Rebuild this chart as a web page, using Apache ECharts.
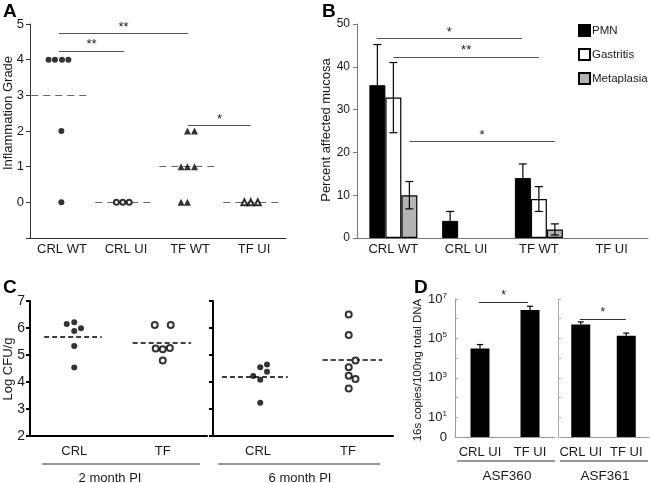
<!DOCTYPE html>
<html><head><meta charset="utf-8">
<script src="https://cdn.jsdelivr.net/npm/echarts@6/dist/echarts.min.js"></script>
<style>html,body{margin:0;padding:0;background:#fff}#c{width:650px;height:483px}</style>
</head><body><div id="c"></div>
<script>
// ===== Panel A: inflammation grade =====
const catsA = ['CRL WT', 'CRL UI', 'TF WT', 'TF UI'];
const aCrlWt = [[0.29, 4], [0.39, 4], [0.5, 4], [0.6, 4], [0.49, 2], [0.49, 0]];
const aCrlUi = [[1.35, 0], [1.45, 0], [1.55, 0]];
const aTfWt = [[2.46, 2], [2.57, 2], [2.36, 1], [2.46, 1], [2.57, 1], [2.36, 0], [2.46, 0]];
const aTfUi = [[3.35, 0], [3.45, 0], [3.56, 0]];
const aMeans = [3, 0, 1, 0];
const aSig = [[0.45, 2.47, 4.73, '**'], [0.45, 1.47, 4.24, '**'], [2.47, 3.45, 2.15, '*']];

// ===== Panel B: percent affected mucosa =====
const catsB = ['CRL WT', 'CRL UI', 'TF WT', 'TF UI'];
const pmn = [35.7, 4.0, 14.0, 0];
const pmnErr = [9.5, 2.2, 3.3, 0];
const gastritis = [32.8, 0, 9.1, 0];
const gastritisErr = [8.2, 0, 2.9, 0];
const metaplasia = [10.0, 0, 2.0, 0];
const metaplasiaErr = [3.2, 0, 1.3, 0];
const bSig = [[0.27, 2.27, 46.6, '*'], [0.5, 2.5, 42.2, '**'], [0.72, 2.72, 22.5, '*']];

// ===== Panel C: Log CFU/g =====
const catsC = ['CRL', 'TF'];
const c2Crl = [[0.415, 6.15], [0.5, 6.21], [0.5, 5.89], [0.576, 5.99], [0.5, 5.33], [0.5, 4.54]];
const c2Tf = [[1.41, 6.11], [1.59, 6.11], [1.42, 5.24], [1.5, 5.21], [1.58, 5.26], [1.5, 4.80]];
const c2Means = [5.68, 5.45];
const c6Crl = [[0.525, 3.23], [0.447, 4.22], [0.525, 4.08], [0.525, 4.55], [0.6, 4.65], [0.6, 4.38]];
const c6Tf = [[1.508, 6.5], [1.508, 5.74], [1.583, 4.80], [1.508, 4.55], [1.508, 4.23], [1.583, 4.11], [1.508, 3.76]];
const c6Means = [4.19, 4.82];
const cGroups = ['2 month PI', '6 month PI'];

// ===== Panel D: 16s copies =====
const catsD = ['CRL UI', 'TF UI'];
const asf360 = [3.05e4, 2.75e6];
const asf360Hi = [4.9e4, 4.3e6];
const asf361 = [5.1e5, 1.35e5];
const asf361Hi = [6.9e5, 1.86e5];
const dSig360 = [0.48, 1.46, 7.2e6, '*'];
const dSig361 = [0.48, 1.49, 9.5e5, '*'];
const dGroups = ['ASF360', 'ASF361'];

const FF = '"Liberation Sans", Arial, Helvetica, sans-serif';
const TXT = '#1a1a1a';
const chart = echarts.init(document.getElementById('c'), null, {renderer: 'canvas'});

function sigLines(xi, yi, arr, color, fs) {
  return {
    type: 'lines', coordinateSystem: 'cartesian2d', xAxisIndex: xi, yAxisIndex: yi, z: 6,
    silent: true, symbol: 'none', clip: false,
    lineStyle: {color: color, width: 1.2, opacity: 1},
    label: {show: true, position: 'middle', distance: 0, color: TXT, fontSize: fs, fontFamily: FF},
    labelLayout: {hideOverlap: false},
    data: arr.map(s => ({coords: [[s[0], s[2]], [s[1], s[2]]], label: {formatter: s[3]}}))
  };
}
// spans are relative to each category's left edge
function meanLines(xi, yi, means, spans, color, width, dash) {
  return {
    type: 'lines', coordinateSystem: 'cartesian2d', xAxisIndex: xi, yAxisIndex: yi, z: 1,
    silent: true, symbol: 'none', clip: false,
    lineStyle: {color: color, width: width, type: dash, opacity: 1},
    data: means.map((m, i) => ({coords: [[i + spans[i][0], m], [i + spans[i][1], m]]}))
  };
}
function errBars(xi, yi, vals, errs, offset, cap) {
  return {
    type: 'custom', xAxisIndex: xi, yAxisIndex: yi, z: 5, silent: true,
    encode: {x: 0, y: [1, 2]},
    data: vals.map((v, i) => [i, v - errs[i], v + errs[i], errs[i]]),
    renderItem(params, api) {
      if (!api.value(3)) return null;
      const lo = api.coord([api.value(0), api.value(1)]);
      const hi = api.coord([api.value(0), api.value(2)]);
      const x = lo[0] + offset;
      const st = {stroke: '#000', lineWidth: 1.2};
      return {type: 'group', children: [
        {type: 'line', shape: {x1: x, y1: lo[1], x2: x, y2: hi[1]}, style: st},
        {type: 'line', shape: {x1: x - cap, y1: hi[1], x2: x + cap, y2: hi[1]}, style: st},
        {type: 'line', shape: {x1: x - cap, y1: lo[1], x2: x + cap, y2: lo[1]}, style: st}
      ]};
    }
  };
}
function errUp(xi, yi, vals, his, cap) {
  return {
    type: 'custom', xAxisIndex: xi, yAxisIndex: yi, z: 5, silent: true,
    encode: {x: 0, y: [1, 2]},
    data: vals.map((v, i) => [i, v, his[i]]),
    renderItem(params, api) {
      const lo = api.coord([api.value(0), api.value(1)]);
      const hi = api.coord([api.value(0), api.value(2)]);
      const st = {stroke: '#000', lineWidth: 1.2};
      return {type: 'group', children: [
        {type: 'line', shape: {x1: lo[0], y1: lo[1], x2: lo[0], y2: hi[1]}, style: st},
        {type: 'line', shape: {x1: lo[0] - cap, y1: hi[1], x2: lo[0] + cap, y2: hi[1]}, style: st}
      ]};
    }
  };
}
// zero-height bars are not drawn in the reference: drop their outline
const noZeroEdge = arr => arr.map(v => v === 0 ? {value: v, itemStyle: {borderWidth: 0, opacity: 0}} : v);

const grids = [
  {left: 30, top: 24, width: 256, height: 214},   // A
  {left: 357, top: 24, width: 291, height: 214},  // B
  {left: 30, top: 301, width: 177, height: 135},  // C 2 month
  {left: 213, top: 301, width: 180, height: 135}, // C 6 month
  {left: 455, top: 299, width: 100, height: 138}, // D ASF360
  {left: 558, top: 299, width: 91, height: 138}   // D ASF361
];

const catLabel = (fs, margin) => ({color: TXT, fontSize: fs, fontFamily: FF, margin: margin, interval: 0, hideOverlap: false});
const xAxes = [
  // A
  {gridIndex: 0, type: 'category', data: catsA, boundaryGap: true,
   axisLine: {onZero: false, lineStyle: {color: '#333', width: 1}}, axisTick: {length: 5, interval: 0, lineStyle: {color: '#333'}},
   axisLabel: catLabel(13, 5)},
  {gridIndex: 0, type: 'value', min: 0, max: 4, show: false},
  // B
  {gridIndex: 1, type: 'category', data: catsB, boundaryGap: true,
   axisLine: {onZero: false, lineStyle: {color: '#777', width: 1}}, axisTick: {length: 4, interval: 0, lineStyle: {color: '#777'}},
   axisLabel: catLabel(13, 5)},
  {gridIndex: 1, type: 'value', min: 0, max: 4, show: false},
  // C
  {gridIndex: 2, type: 'category', data: catsC, axisTick: {alignWithLabel: true, interval: 0, length: 5, lineStyle: {color: '#000', width: 2}},
   axisLine: {onZero: false, lineStyle: {color: '#000', width: 2}}, axisLabel: catLabel(13, 9)},
  {gridIndex: 2, type: 'value', min: 0, max: 2, show: false},
  {gridIndex: 3, type: 'category', data: catsC, axisTick: {alignWithLabel: true, interval: 0, length: 5, lineStyle: {color: '#000', width: 2}},
   axisLine: {onZero: false, lineStyle: {color: '#000', width: 2}}, axisLabel: catLabel(13, 9)},
  {gridIndex: 3, type: 'value', min: 0, max: 2, show: false},
  // D
  {gridIndex: 4, type: 'category', data: catsD, axisTick: {show: false},
   axisLine: {onZero: false, lineStyle: {color: '#999', width: 1}}, axisLabel: catLabel(13, 9)},
  {gridIndex: 4, type: 'value', min: 0, max: 2, show: false},
  {gridIndex: 5, type: 'category', data: catsD, axisTick: {show: false},
   axisLine: {onZero: false, lineStyle: {color: '#999', width: 1}}, axisLabel: catLabel(13, 9)},
  {gridIndex: 5, type: 'value', min: 0, max: 2, show: false}
];

const supMap = {7: '7', 5: '5', 3: '3', 1: '1'};
const dFmt = v => {
  if (v <= 1.0001) return '{n|0}';
  const e = Math.round(Math.log10(v));
  return e % 2 === 1 ? '{n|10}{s|' + supMap[e] + '}' : '';
};
const yAxes = [
  {gridIndex: 0, type: 'value', min: -1, max: 5, interval: 1, splitLine: {show: false},
   axisLine: {show: true, lineStyle: {color: '#333'}}, axisTick: {show: true, length: 4, lineStyle: {color: '#333'}},
   axisLabel: {color: TXT, fontSize: 13, fontFamily: FF, margin: 6, formatter: v => v < 0 ? '' : v}},
  {gridIndex: 1, type: 'value', min: 0, max: 50, interval: 10, splitLine: {show: false},
   axisLine: {show: true, lineStyle: {color: '#777'}}, axisTick: {show: true, length: 4, lineStyle: {color: '#777'}},
   axisLabel: {color: TXT, fontSize: 12, fontFamily: FF, margin: 7}},
  {gridIndex: 2, type: 'value', min: 2, max: 7, interval: 1, splitLine: {show: false},
   axisLine: {show: true, lineStyle: {color: '#000', width: 2}}, axisTick: {show: true, length: 4, lineStyle: {color: '#000', width: 2}},
   axisLabel: {color: TXT, fontSize: 14, fontFamily: FF, margin: 5}},
  {gridIndex: 3, type: 'value', min: 2, max: 7, interval: 1, splitLine: {show: false},
   axisLine: {show: true, lineStyle: {color: '#000', width: 2}}, axisTick: {show: true, length: 4, lineStyle: {color: '#000', width: 2}},
   axisLabel: {show: false}},
  {gridIndex: 4, type: 'log', logBase: 10, min: 1, max: 1e7, splitNumber: 7, splitLine: {show: false},
   axisLine: {show: true, lineStyle: {color: '#999'}}, axisTick: {show: true, inside: true, length: 3, lineStyle: {color: '#aaa'}},
   axisLabel: {color: TXT, fontFamily: FF, margin: 8, formatter: dFmt,
     rich: {n: {fontSize: 13, fontFamily: FF, color: TXT}, s: {fontSize: 8, fontFamily: FF, color: TXT, padding: [0, 0, 7, 0]}}}},
  {gridIndex: 5, type: 'log', logBase: 10, min: 1, max: 1e7, splitNumber: 7, splitLine: {show: false},
   axisLine: {show: true, lineStyle: {color: '#aaa'}}, axisTick: {show: true, inside: true, length: 3, lineStyle: {color: '#aaa'}},
   axisLabel: {show: false}}
];

const series = [
  // ---- A ----
  meanLines(1, 0, aMeans, [[0.02, 0.95], [0.02, 0.92], [0.02, 0.92], [0.02, 0.9]], '#666', 1.2, [7, 5]),
  {type: 'scatter', xAxisIndex: 1, yAxisIndex: 0, data: aCrlWt, symbol: 'circle', symbolSize: 6, itemStyle: {color: '#000'}, z: 4},
  {type: 'scatter', xAxisIndex: 1, yAxisIndex: 0, data: aCrlUi, symbol: 'emptyCircle', symbolSize: 5, itemStyle: {color: '#000', borderWidth: 1}, z: 4},
  {type: 'scatter', xAxisIndex: 1, yAxisIndex: 0, data: aTfWt, symbol: 'triangle', symbolSize: 7, itemStyle: {color: '#000'}, z: 4},
  {type: 'scatter', xAxisIndex: 1, yAxisIndex: 0, data: aTfUi, symbol: 'emptyTriangle', symbolSize: 6, itemStyle: {color: '#000', borderWidth: 1}, z: 4},
  sigLines(1, 0, aSig, '#555', 13),
  // ---- B ----
  {type: 'bar', name: 'PMN', xAxisIndex: 2, yAxisIndex: 1, data: noZeroEdge(pmn), barWidth: 16, barGap: '0%',
   itemStyle: {color: '#000', borderColor: '#000', borderWidth: 1}},
  {type: 'bar', name: 'Gastritis', xAxisIndex: 2, yAxisIndex: 1, data: noZeroEdge(gastritis), barWidth: 16, barGap: '0%',
   itemStyle: {color: '#fff', borderColor: '#000', borderWidth: 1.2}},
  {type: 'bar', name: 'Metaplasia', xAxisIndex: 2, yAxisIndex: 1, data: noZeroEdge(metaplasia), barWidth: 16, barGap: '0%',
   itemStyle: {color: '#b4b4b4', borderColor: '#000', borderWidth: 1.2}},
  errBars(2, 1, pmn, pmnErr, -16, 4),
  errBars(2, 1, gastritis, gastritisErr, 0, 4),
  errBars(2, 1, metaplasia, metaplasiaErr, 16, 4),
  sigLines(3, 1, bSig, '#555', 13),
  // ---- C ----
  meanLines(5, 2, c2Means, [[0.16, 0.81], [0.16, 0.82]], '#000', 1.6, [5, 3]),
  {type: 'scatter', xAxisIndex: 5, yAxisIndex: 2, data: c2Crl, symbol: 'circle', symbolSize: 6, itemStyle: {color: '#000'}, z: 4},
  {type: 'scatter', xAxisIndex: 5, yAxisIndex: 2, data: c2Tf, symbol: 'emptyCircle', symbolSize: 6, itemStyle: {color: '#000', borderWidth: 1.3}, z: 4},
  meanLines(7, 3, c6Means, [[0.1, 0.83], [0.22, 0.88]], '#000', 1.6, [5, 3]),
  {type: 'scatter', xAxisIndex: 7, yAxisIndex: 3, data: c6Crl, symbol: 'circle', symbolSize: 6, itemStyle: {color: '#000'}, z: 4},
  {type: 'scatter', xAxisIndex: 7, yAxisIndex: 3, data: c6Tf, symbol: 'emptyCircle', symbolSize: 6, itemStyle: {color: '#000', borderWidth: 1.3}, z: 4},
  // ---- D ----
  {type: 'bar', xAxisIndex: 8, yAxisIndex: 4, data: asf360, barWidth: 19, itemStyle: {color: '#000'}},
  errUp(8, 4, asf360, asf360Hi, 3),
  sigLines(9, 4, [dSig360], '#333', 12),
  {type: 'bar', xAxisIndex: 10, yAxisIndex: 5, data: asf361, barWidth: 19, itemStyle: {color: '#000'}},
  errUp(10, 5, asf361, asf361Hi, 3),
  sigLines(11, 5, [dSig361], '#333', 12)
];

const letter = (t, x, y) => ({type: 'text', x: x, y: y, style: {text: t, font: 'bold 19px ' + FF, fill: '#000'}});
const vTitle = (t, x, y, fs) => ({type: 'text', x: x, y: y, rotation: Math.PI / 2,
  style: {text: t, font: fs + 'px ' + FF, fill: TXT, align: 'center', verticalAlign: 'middle'}});
const hLine = (x1, x2, y) => ({type: 'line', shape: {x1: x1, y1: y, x2: x2, y2: y}, style: {stroke: '#333', lineWidth: 1}});
const cText = (t, x, y, fs) => ({type: 'text', x: x, y: y, style: {text: t, font: fs + 'px ' + FF, fill: TXT, align: 'center', verticalAlign: 'middle'}});

chart.setOption({
  animation: false,
  backgroundColor: '#fff',
  textStyle: {fontFamily: FF},
  grid: grids,
  xAxis: xAxes,
  yAxis: yAxes,
  legend: {
    data: ['PMN', 'Gastritis', 'Metaplasia'], orient: 'vertical', left: 578, top: 24, padding: 0,
    icon: 'rect', itemWidth: 11, itemHeight: 11, itemGap: 11,
    textStyle: {fontSize: 11.5, color: TXT, fontFamily: FF, padding: [0, 0, 0, -3]}, selectedMode: false
  },
  series: series,
  graphic: [
    letter('A', 3, 2), letter('B', 322, 2), letter('C', 3, 278), letter('D', 414, 278),
    vTitle('Inflammation Grade', 8, 113, 13),
    vTitle('Percent affected mucosa', 326, 130, 13),
    vTitle('Log CFU/g', 8, 369, 13),
    vTitle('16s copies/100ng total DNA', 418, 370, 11.5),
    hLine(42, 200, 464), hLine(218, 380, 464),
    cText(cGroups[0], 110, 478, 13), cText(cGroups[1], 300, 478, 13),
    hLine(457, 555, 461), hLine(560, 648, 461),
    cText(dGroups[0], 507, 476, 13.5), cText(dGroups[1], 605, 476, 13.5)
  ]
});
</script></body></html>
